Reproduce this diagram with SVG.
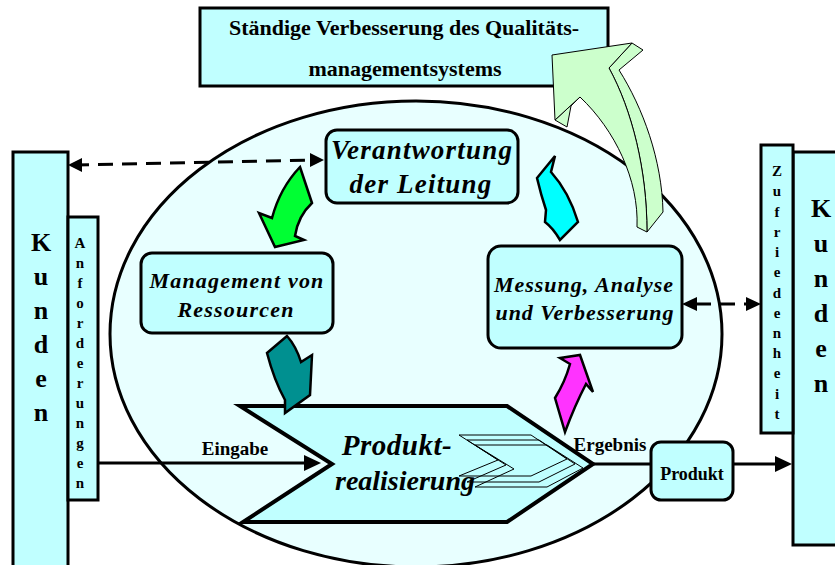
<svg xmlns="http://www.w3.org/2000/svg" width="835" height="565" viewBox="0 0 835 565">
<defs>
<style>
.box{fill:#C0FFFF;stroke:#000;stroke-width:3}
.rbox{fill:#C0FFFF;stroke:#000;stroke-width:3}
.t{font-family:"Liberation Serif","Times New Roman",serif;font-weight:bold;fill:#000}
.it{font-style:italic}
.mid{text-anchor:middle}
.line{fill:none;stroke:#000;stroke-width:3}
.dash{fill:none;stroke:#000;stroke-width:3;stroke-dasharray:15 9}
.arr{stroke:#000;stroke-width:2.5;stroke-linejoin:miter}
.thin{fill:none;stroke:#000;stroke-width:1}
</style>
</defs>

<g id="kunden-links">
<rect class="box" x="13" y="152" width="55" height="460"/>
<text class="t mid" font-size="26"><tspan x="41" y="251">K</tspan><tspan x="41" y="285">u</tspan><tspan x="41" y="319">n</tspan><tspan x="41" y="353">d</tspan><tspan x="41" y="387">e</tspan><tspan x="41" y="421">n</tspan></text>
</g>
<g id="anforderungen">
<rect class="box" x="68" y="217" width="30" height="283"/>
<text class="t mid" font-size="15"><tspan x="80" y="248">A</tspan><tspan x="80" y="268">n</tspan><tspan x="80" y="288">f</tspan><tspan x="80" y="308">o</tspan><tspan x="80" y="328">r</tspan><tspan x="80" y="348">d</tspan><tspan x="80" y="368">e</tspan><tspan x="80" y="388">r</tspan><tspan x="80" y="408">u</tspan><tspan x="80" y="428">n</tspan><tspan x="80" y="448">g</tspan><tspan x="80" y="468">e</tspan><tspan x="80" y="488">n</tspan></text>
</g>
<g id="kunden-rechts">
<rect class="box" x="793" y="152" width="60" height="393"/>
<text class="t mid" font-size="26"><tspan x="821" y="217">K</tspan><tspan x="821" y="252">u</tspan><tspan x="821" y="287">n</tspan><tspan x="821" y="322">d</tspan><tspan x="821" y="357">e</tspan><tspan x="821" y="392">n</tspan></text>
</g>
<g id="zufriedenheit">
<rect class="box" x="761" y="145" width="32" height="288"/>
<text class="t mid" font-size="15"><tspan x="777" y="176">Z</tspan><tspan x="777" y="196">u</tspan><tspan x="777" y="217">f</tspan><tspan x="777" y="237">r</tspan><tspan x="777" y="257">i</tspan><tspan x="777" y="277">e</tspan><tspan x="777" y="298">d</tspan><tspan x="777" y="318">e</tspan><tspan x="777" y="338">n</tspan><tspan x="777" y="358">h</tspan><tspan x="777" y="378">e</tspan><tspan x="777" y="399">i</tspan><tspan x="777" y="419">t</tspan></text>
</g>

<g id="qm-system">
<ellipse cx="416" cy="334" rx="306" ry="233" fill="#E8FFFF" stroke="#000" stroke-width="3"/>
</g>

<g id="titel">
<rect class="box" x="200" y="8" width="408" height="78"/>
<text class="t mid" font-size="22" x="404" y="35">Ständige Verbesserung des Qualitäts-</text>
<text class="t mid" font-size="22" x="405" y="76">managementsystems</text>
</g>

<g id="verantwortung">
<rect class="rbox" x="326" y="130" width="192" height="73" rx="11"/>
<text class="t it mid" font-size="27" letter-spacing="1.2" x="422" y="159">Verantwortung</text>
<text class="t it mid" font-size="27" letter-spacing="1.2" x="421" y="193">der Leitung</text>
</g>
<g id="management">
<rect class="rbox" x="141" y="253" width="192" height="80" rx="11"/>
<text class="t it mid" font-size="22" letter-spacing="1.2" x="237" y="288">Management von</text>
<text class="t it mid" font-size="22" letter-spacing="1.2" x="236" y="317">Ressourcen</text>
</g>
<g id="messung">
<rect class="rbox" x="488" y="246" width="194" height="102" rx="13"/>
<text class="t it mid" font-size="22" letter-spacing="1" x="584" y="292">Messung, Analyse</text>
<text class="t it mid" font-size="22" letter-spacing="1" x="585" y="320">und Verbesserung</text>
</g>
<g id="produktrealisierung">
<polygon points="240,406 507,406 593,464 507,522 243,522 332,464" fill="#C0FFFF" stroke="#000" stroke-width="4" stroke-linejoin="miter"/>
<polygon class="thin" points="459,435 531,435 567,459 531,476 459,476 498,460"/>
<polygon class="thin" points="467,440 539,440 575,464 539,482 467,482 506,465"/>
<polygon class="thin" points="475,445 547,445 583,468 547,487 475,487 514,469"/>
<text class="t it mid" font-size="29" letter-spacing="0.5" x="397" y="455">Produkt-</text>
<text class="t it mid" font-size="28" x="405" y="490">realisierung</text>
</g>
<g id="produkt">
<rect class="rbox" x="651" y="442" width="82" height="58" rx="10"/>
<text class="t mid" font-size="18" x="692" y="480">Produkt</text>
</g>

<g id="connectors">
<line class="dash" x1="74" y1="165" x2="317" y2="160"/>
<path d="M68,165 L82,158 L82,172 Z" fill="#000"/>
<path d="M324,160 L310,153 L310,167 Z" fill="#000"/>
<line class="dash" x1="696" y1="304" x2="746" y2="304"/>
<path d="M682,304 L697,297 L697,311 Z" fill="#000"/>
<path d="M761,304 L746,297 L746,311 Z" fill="#000"/>
<line class="line" x1="98" y1="463" x2="306" y2="463"/>
<path d="M321,463 L304,455 L304,471 Z" fill="#000"/>
<line class="line" x1="593" y1="464" x2="651" y2="464"/>
<line class="line" x1="733" y1="464" x2="778" y2="464"/>
<path d="M792,464 L775,456 L775,472 Z" fill="#000"/>
<path class="arr" fill="#00FF33" d="M300,167 L312,203 Q298,216 295,236 L304,240 L275,247 L259,213 L272,218 Q280,188 300,167 Z"/>
<path class="arr" fill="#009090" d="M267,353 L287,336 Q296,346 301,362 L312,355 L310,395 L285,413 L285,400 Q274,380 267,353 Z"/>
<path class="arr" fill="#FF33FF" d="M560,358 L580,355 L593,392 L586,384 Q575,405 565,432 L555,398 Q565,382 570,364 Z"/>
<path class="arr" fill="#00FFFF" d="M555,156 L551,172 Q569,192 578,222 L560,240 Q553,228 545,222 L546,210 Q541,195 537,178 Z"/>
<g fill="#CCFFCC" stroke="#000" stroke-width="1" stroke-linejoin="round">
<path d="M632,43 L643,50 L619,70 C643,108 662,160 663,212 L647,232 C647,170 632,110 609,68 Z"/>
<path d="M555,120 L567,127 L571,106 L580,97 Z"/>
<path d="M552,55 L632,43 L609,68 C632,110 647,170 647,232 L637,227 C639,180 615,130 580,97 L555,120 Z"/>
</g>
</g>

<g id="labels">
<text class="t mid" font-size="19" x="235" y="455">Eingabe</text>
<text class="t mid" font-size="19" x="610" y="451">Ergebnis</text>
</g>
</svg>
